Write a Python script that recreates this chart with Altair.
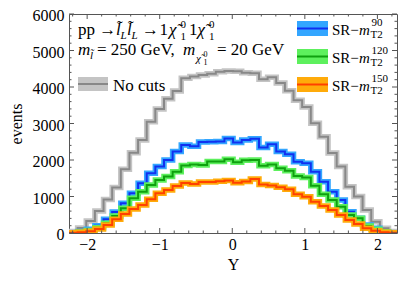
import altair as alt
import pandas as pd

# ---------------- data ----------------
edges = [-2.25, -2.131, -2.012, -1.893, -1.774, -1.655, -1.536, -1.417, -1.298, -1.179,
         -1.06, -0.941, -0.822, -0.703, -0.584, -0.465, -0.346, -0.227, -0.108, 0.011,
         0.13, 0.249, 0.368, 0.487, 0.606, 0.725, 0.844, 0.963, 1.082, 1.201,
         1.32, 1.439, 1.558, 1.677, 1.796, 1.915, 2.034, 2.153, 2.272]

no_cuts = [40, 140, 330, 600, 920, 1250, 1750, 2200, 2550, 3050,
           3400, 3680, 3890, 4240, 4290, 4330, 4360, 4420, 4440, 4430,
           4390, 4380, 4210, 4270, 4110, 3900, 3640, 3450, 3010, 2640,
           2190, 1820, 1270, 1000, 630, 310, 130, 40]
sr90 = [10, 40, 100, 200, 375, 575, 814, 1088, 1361, 1635,
        1820, 2000, 2230, 2410, 2380, 2490, 2500, 2510, 2590, 2480,
        2550, 2580, 2340, 2430, 2230, 2160, 1950, 1910, 1680, 1406,
        1132, 904, 584, 402, 219, 129, 36, 10]
sr120 = [5, 25, 70, 146, 265, 466, 676, 950, 1132, 1315,
         1450, 1550, 1680, 1850, 1880, 1860, 1960, 1960, 2020, 1940,
         1990, 2000, 1845, 1880, 1772, 1707, 1560, 1520, 1297, 1060,
         904, 721, 493, 402, 192, 100, 36, 10]
sr150 = [8, 20, 45, 110, 219, 375, 520, 657, 767, 923,
         1088, 1178, 1288, 1370, 1340, 1400, 1400, 1420, 1440, 1380,
         1410, 1480, 1330, 1300, 1251, 1196, 1060, 995, 858, 740,
         630, 493, 356, 247, 128, 64, 20, 8]

x_major = [-2, -1, 0, 1, 2]
x_minor = [-2.2, -1.8, -1.6, -1.4, -1.2, -0.8, -0.6, -0.4, -0.2,
           0.2, 0.4, 0.6, 0.8, 1.2, 1.4, 1.6, 1.8, 2.2]
y_major = [0, 1000, 2000, 3000, 4000, 5000, 6000]
y_minor = [200, 400, 600, 800, 1200, 1400, 1600, 1800, 2200, 2400, 2600, 2800,
           3200, 3400, 3600, 3800, 4200, 4400, 4600, 4800, 5200, 5400, 5600, 5800]

series = [
    ("No cuts", no_cuts, "#c4c4c4", "#888888"),
    ("SR90", sr90, "#33a6ff", "#1030f0"),
    ("SR120", sr120, "#5df05d", "#0fa00f"),
    ("SR150", sr150, "#ffab0a", "#ff4000"),
]

# ---------------- geometry ----------------
W, H = 328, 219
X0, X1 = -2.25, 2.27
Y0, Y1 = 0, 6000
FONT = "Liberation Serif"

xs = alt.Scale(domain=[X0, X1], nice=False, zero=False)
ys = alt.Scale(domain=[Y0, Y1], nice=False, zero=False)

XAX = alt.Axis(
    values=x_major, ticks=False, domain=False, grid=False,
    labelExpr="replace(format(datum.value,'d'),'-','−')",
    labelFont=FONT, labelFontSize=16, labelColor="black", labelPadding=3,
    title="Y", titleFont=FONT, titleFontSize=16, titleFontWeight="normal",
    titleColor="black", titlePadding=4)
YAX = alt.Axis(
    values=y_major, ticks=False, domain=False, grid=False, format="d",
    labelFont=FONT, labelFontSize=16, labelColor="black", labelPadding=5,
    labelOffset=1.5,
    title="events", titleFont=FONT, titleFontSize=16, titleFontWeight="normal",
    titleColor="black", titlePadding=8)


def X(f):
    return alt.X(f, scale=xs, axis=XAX)


def Y(f):
    return alt.Y(f, scale=ys, axis=YAX)


def px2x(px):  # page px -> data x
    return X0 + (px - 69) / W * (X1 - X0)


def py2y(py):  # page px -> data y
    return Y1 - (py - 14) / H * (Y1 - Y0)


layers = []

# histograms
for name, vals, light, dark in series:
    rows = [{"x": edges[i], "v": vals[i]} for i in range(len(vals))]
    rows.append({"x": edges[len(vals)], "v": vals[-1]})
    df = pd.DataFrame(rows)
    base = alt.Chart(df).encode(x=X("x:Q"), y=Y("v:Q"))
    layers.append(base.mark_line(interpolate="step-after", strokeWidth=5.5, color=light,
                                 clip=True, strokeJoin="miter", strokeCap="butt"))
    layers.append(base.mark_line(interpolate="step-after", strokeWidth=2, color=dark,
                                 clip=True, strokeJoin="miter", strokeCap="butt"))

# frame ticks (inward)
TC = "#555555"


def xticks(vals, length):
    d = pd.DataFrame({"t": vals})
    b = alt.Chart(d).encode(x=X("t:Q"))
    return [b.mark_rule(color=TC, strokeWidth=1).encode(y=alt.value(H), y2=alt.value(H - length)),
            b.mark_rule(color=TC, strokeWidth=1).encode(y=alt.value(0), y2=alt.value(length))]


def yticks(vals, length):
    d = pd.DataFrame({"t": vals})
    b = alt.Chart(d).encode(y=Y("t:Q"))
    return [b.mark_rule(color=TC, strokeWidth=1).encode(x=alt.value(0), x2=alt.value(length)),
            b.mark_rule(color=TC, strokeWidth=1).encode(x=alt.value(W), x2=alt.value(W - length))]


layers += xticks(x_major, 5) + xticks(x_minor, 2.5) + yticks(y_major, 5) + yticks(y_minor, 2.5)

# legend swatches (page px)
sw = [
    (78, 108, 77, 91, "#c4c4c4", "#888888"),
    (297, 328, 21, 36, "#33a6ff", "#1030f0"),
    (297, 328, 49, 64, "#5df05d", "#0fa00f"),
    (297, 328, 77, 92, "#ffab0a", "#ff4000"),
]
for (xa, xb, ya, yb, light, dark) in sw:
    d = pd.DataFrame({"x": [px2x(xa)], "x2": [px2x(xb)], "y": [py2y(ya)], "y2": [py2y(yb)],
                      "ym": [py2y((ya + yb) / 2)]})
    layers.append(alt.Chart(d).mark_rect(color=light).encode(
        x=X("x:Q"), x2="x2:Q", y=Y("y:Q"), y2="y2:Q"))
    layers.append(alt.Chart(d).mark_rule(color=dark, strokeWidth=2).encode(
        x=X("x:Q"), x2="x2:Q", y=Y("ym:Q")))

# text pieces: (text, page x, baseline page y, size, italic)
pieces = [
    ("pp →", 78, 35, 17, False),
    ("l\u0303", 116, 35, 17, True), ("L", 120.5, 39, 11, True),
    ("l\u0303", 127, 35, 17, True), ("L", 131.5, 39, 11, True),
    ("→", 142, 35, 17, False), ("1", 159.5, 35, 17, False),
    ("χ\u0303", 169, 35, 17, True), ("0", 180.5, 28, 11, False), ("1", 180.5, 40, 11, False),
    ("1", 189, 35, 17, False),
    ("χ\u0303", 197.5, 35, 17, True), ("0", 209, 28, 11, False), ("1", 209, 40, 11, False),
    ("m", 78, 55, 17, True), ("l\u0303", 90, 59, 11, True),
    ("= 250 GeV,", 97, 55, 17, False),
    ("m", 183, 55, 17, True), ("χ\u0303", 196, 62, 11, True),
    ("0", 203.5, 57, 8, False), ("1", 203.5, 65, 8, False),
    ("= 20 GeV", 217, 55, 17, False),
    ("No cuts", 113, 91, 17, False),
]
for i, yb in enumerate([35, 63, 91]):
    sup = ["90", "120", "150"][i]
    pieces += [("SR\u2212", 332, yb, 15, False), ("m", 359, yb, 15, True),
               ("T2", 370.5, yb + 3, 11, False), (sup, 371.5, yb - 9, 11, False)]

for italic in (False, True):
    sel = [p for p in pieces if p[4] == italic]
    d = pd.DataFrame({"t": [p[0] for p in sel], "x": [px2x(p[1]) for p in sel],
                      "y": [py2y(p[2]) for p in sel], "s": [p[3] for p in sel]})
    layers.append(alt.Chart(d).mark_text(
        align="left", baseline="alphabetic", font=FONT, color="black",
        fontStyle="italic" if italic else "normal").encode(
        x=X("x:Q"), y=Y("y:Q"),
        text="t:N", size=alt.Size("s:Q", scale=None, legend=None)))

chart = alt.layer(*layers).properties(
    width=W, height=H, autosize="none",
    padding={"left": 61, "top": 6, "right": 10, "bottom": 40},
).configure_view(stroke="#555555", strokeWidth=1)

chart.save("out.html", embed_options={"renderer": "svg", "actions": False})
